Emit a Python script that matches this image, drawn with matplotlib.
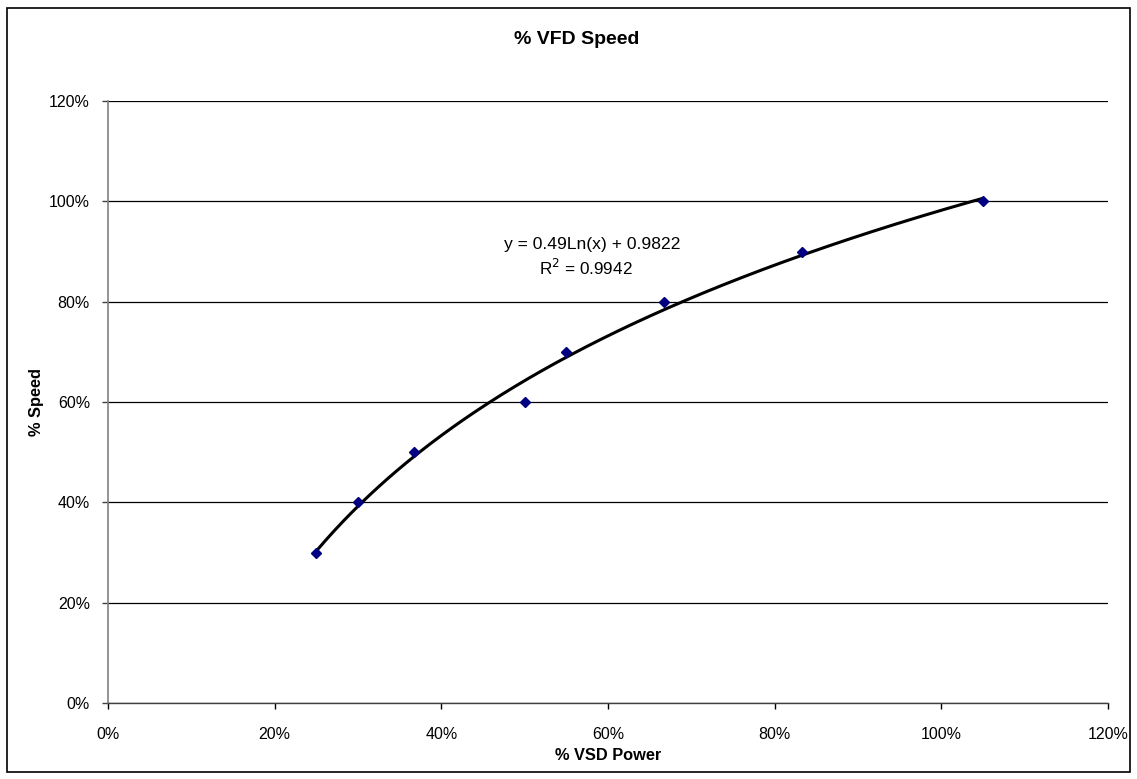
import numpy as np
import matplotlib
matplotlib.use("Agg")
import matplotlib.pyplot as plt
from matplotlib.ticker import PercentFormatter
from matplotlib.patches import Rectangle

plt.rcParams['font.family'] = ['Liberation Sans', 'DejaVu Sans']

# Measured points: VSD power vs. fan speed (fractions)
power = [0.25, 0.30, 0.367, 0.50, 0.55, 0.667, 0.833, 1.05]
speed = [0.30, 0.40, 0.50, 0.60, 0.70, 0.80, 0.90, 1.00]

# Logarithmic trendline coefficients
coef_a = 0.49
coef_b = 0.9822
r_squared = 0.9942

W, H = 1137, 779
fig = plt.figure(figsize=(W / 100, H / 100), dpi=100)
ax = fig.add_axes([108 / W, 1 - 703 / H, 1000 / W, 602 / H])

# Trendline across the data range
xs = np.linspace(min(power), max(power), 300)
ax.plot(xs, coef_a * np.log(xs) + coef_b, color='black', lw=2.2, zorder=3)
ax.plot(power, speed, linestyle='none', marker='D', markersize=5.5,
        color='#000080', markeredgecolor='#000080', zorder=4)

ax.set_xlim(0, 1.2)
ax.set_ylim(0, 1.2)
ax.set_xticks(np.arange(0, 1.21, 0.2))
ax.set_yticks(np.arange(0, 1.21, 0.2))
ax.xaxis.set_major_formatter(PercentFormatter(1.0, decimals=0))
ax.yaxis.set_major_formatter(PercentFormatter(1.0, decimals=0))
ax.grid(axis='y', color='black', lw=0.9)
ax.set_axisbelow(True)

for side in ('top', 'right'):
    ax.spines[side].set_visible(False)
ax.spines['left'].set_color('#808080')
ax.spines['left'].set_linewidth(1.2)
ax.spines['bottom'].set_color('#404040')
ax.spines['bottom'].set_linewidth(1.0)
ax.tick_params(axis='both', direction='out', length=4, width=1,
               labelsize=11.5, colors='black')
ax.tick_params(axis='x', pad=13)
ax.tick_params(axis='y', pad=9, color='#404040')

fig.text(608 / W, 1 - 756 / H, '% VSD Power', ha='center', va='center',
         fontsize=11.8, fontweight='bold')
fig.text(36 / W, 1 - 402 / H, '% Speed', ha='center', va='center',
         rotation=90, fontsize=11.8, fontweight='bold')
fig.text(577 / W, 1 - 40 / H, '% VFD Speed', ha='center', va='center',
         fontsize=14, fontweight='bold')

fig.text(592 / W, 1 - 245 / H, f'y = {coef_a}Ln(x) + {coef_b}', ha='center',
         va='center', fontsize=12.6)
fig.text(586 / W, 1 - 268 / H, f'R$^2$ = {r_squared}', ha='center',
         va='center', fontsize=12.3)

fig.patches.append(Rectangle((7 / W, 1 - 772 / H), 1123 / W, 764 / H,
                             transform=fig.transFigure, fill=False,
                             edgecolor='black', lw=1.2))

fig.savefig('out.png', dpi=100, facecolor='white')
